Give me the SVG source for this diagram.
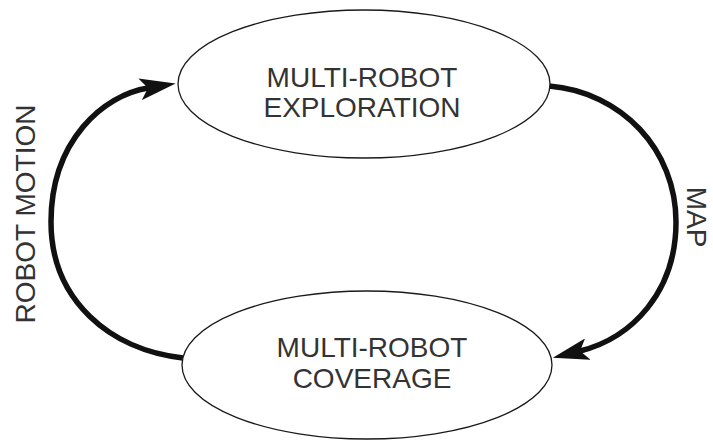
<svg xmlns="http://www.w3.org/2000/svg" width="713" height="441" viewBox="0 0 713 441">
  <style>
    .node ellipse { fill: #fff; stroke: #1a1a1a; stroke-width: 1.3; }
    .label { font-family: "Liberation Sans", Arial, sans-serif; font-size: 28px; fill: #333; text-anchor: middle; }
    .flow { fill: none; stroke: #111; stroke-width: 5.5; stroke-linecap: butt; }
  </style>
  <defs>
    <marker id="head" markerUnits="userSpaceOnUse" viewBox="0 0 36 22" refX="8" refY="11" markerWidth="36" markerHeight="22" orient="auto">
      <path d="M0,0 L36,11 L0,22 L8,11 Z" fill="#111"/>
    </marker>
  </defs>

  <g id="connectors">
    <!-- robot motion: coverage back to exploration -->
    <path class="flow" d="M183,358 C110,350 51,300 51,222 C51,140 104,95 148,88" marker-end="url(#head)"/>
    <!-- map: exploration to coverage -->
    <path class="flow" d="M549,86 C622,92 676,150 676,222 C676,292 632,338 580,351" marker-end="url(#head)"/>
  </g>

  <g id="exploration" class="node">
    <ellipse cx="364" cy="84" rx="186" ry="74"/>
    <text class="label" x="362" y="87">MULTI-ROBOT</text>
    <text class="label" x="362" y="117">EXPLORATION</text>
  </g>

  <g id="coverage" class="node">
    <ellipse cx="367" cy="365" rx="185" ry="74"/>
    <text class="label" x="372" y="357">MULTI-ROBOT</text>
    <text class="label" x="372" y="388">COVERAGE</text>
  </g>

  <g id="edge-labels">
    <text class="label" transform="translate(35,214) rotate(-90)">ROBOT MOTION</text>
    <text class="label" transform="translate(687,217) rotate(90)">MAP</text>
  </g>
</svg>
